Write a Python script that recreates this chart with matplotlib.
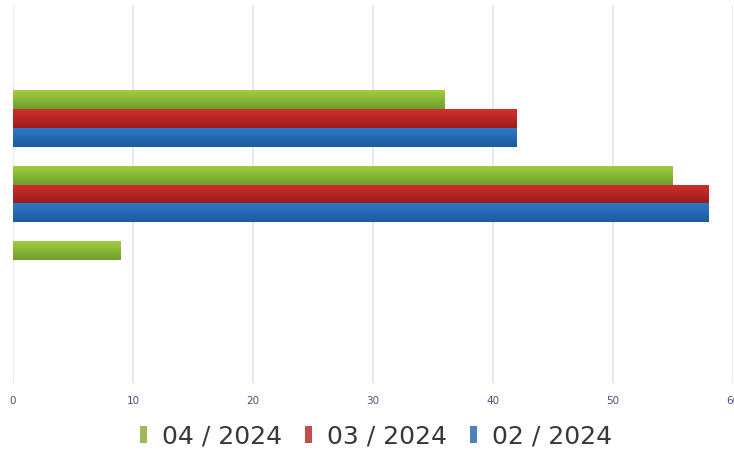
import numpy as np
import matplotlib.pyplot as plt
from matplotlib import colors as mcolors
from matplotlib.patches import Patch

categories = ["", "C", "B", "A", ""]
series_names = ["04 / 2024", "03 / 2024", "02 / 2024"]
values_04 = [0, 9, 55, 36, 0]
values_03 = [0, 0, 58, 42, 0]
values_02 = [0, 0, 58, 42, 0]
xticks = [0, 10, 20, 30, 40, 50, 60]

top_colors = ["#a2cd40", "#d2302c", "#2f78c4"]
bottom_colors = ["#6e9e2c", "#9c1c1c", "#1c5a9e"]
legend_colors = ["#9bbb59", "#c0504d", "#4f81bd"]


def gradient_bars(ax, bars, c_top, c_bot):
    cmap = mcolors.LinearSegmentedColormap.from_list("g", [c_bot, c_top])
    grad = np.linspace(0, 1, 64).reshape(-1, 1)
    for b in bars:
        x, y = b.get_x(), b.get_y()
        w, h = b.get_width(), b.get_height()
        if w <= 0:
            continue
        im = ax.imshow(grad, cmap=cmap, aspect="auto", origin="lower",
                       extent=[x, x + w, y, y + h], zorder=3)
        im.set_clip_path(b)
        b.set_facecolor("none")


fig = plt.figure(figsize=(7.34, 4.5), dpi=100)
ax = fig.add_axes([13 / 734, 1 - 383 / 450, 720 / 734, 378 / 450])

y = np.arange(len(categories))
h = 0.25
all_vals = [values_04, values_03, values_02]
for i, vals in enumerate(all_vals):
    offs = (1 - i) * h
    bars = ax.barh(y + offs, vals, height=h, color=top_colors[i],
                   linewidth=0, zorder=3)
    gradient_bars(ax, bars, top_colors[i], bottom_colors[i])

ax.set_xlim(0, 60)
ax.set_ylim(-0.5, len(categories) - 0.5)
ax.set_xticks(xticks)
ax.set_xticklabels([str(t) for t in xticks])
ax.set_yticks([])
ax.tick_params(axis="x", length=0, pad=9, labelsize=7.5, labelcolor="#42527a")
ax.grid(axis="x", color="#e2e5ec", linewidth=1.2, zorder=0)
for s in ax.spines.values():
    s.set_visible(False)

handles = [Patch(facecolor=c, edgecolor="none") for c in legend_colors]
leg = fig.legend(handles, series_names, loc="center", bbox_to_anchor=(376 / 734, 1 - 436 / 450),
                 ncol=3, frameon=False, handlelength=0.3, handleheight=0.7,
                 handletextpad=0.6, columnspacing=0.9,
                 prop={"family": ["DejaVu Sans"], "size": 18})
for t in leg.get_texts():
    t.set_color("#383838")

fig.savefig("out.png", dpi=100)
